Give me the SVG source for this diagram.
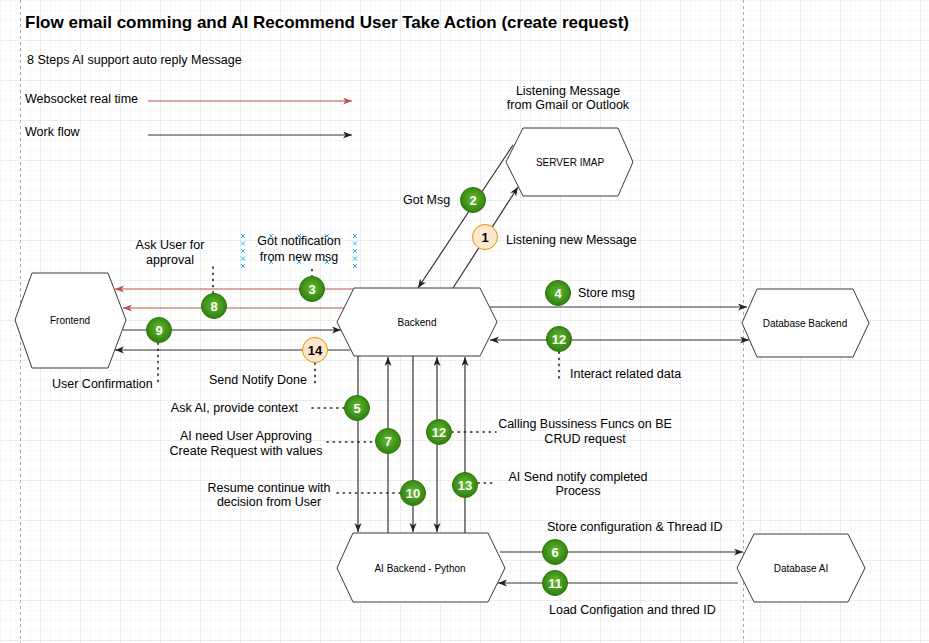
<svg xmlns="http://www.w3.org/2000/svg" width="929" height="643" viewBox="0 0 929 643">
<style>
text{font-family:"Liberation Sans",Arial,sans-serif;fill:#000}
.lbl{font-size:12.5px}
.node{font-size:10px}
.hex{fill:#fff;stroke:#36393d;stroke-width:1}
.ln{fill:none;stroke:#333;stroke-width:1.2}
.red{fill:none;stroke:#b85450;stroke-width:1.2}
.dot{fill:none;stroke:#222;stroke-width:1.6;stroke-dasharray:1.2 5;stroke-linecap:round}
.gc{fill:url(#gg);stroke:#2d7600;stroke-width:1}
.oc{fill:#ffe6cc;stroke:#d79b00;stroke-width:1}
.num{font-size:13px;font-weight:bold;fill:#fff;text-anchor:middle}
.numo{font-size:13px;font-weight:bold;fill:#000;text-anchor:middle}
.hx{stroke:#29b6f2;stroke-width:1}
</style>
<defs>
<pattern id="gmin" width="10" height="10" patternUnits="userSpaceOnUse"><path d="M10 0H0V10" fill="none" stroke="#f0f0f0" stroke-width="1"/></pattern>
<pattern id="gmaj" width="40" height="40" patternUnits="userSpaceOnUse"><rect width="40" height="40" fill="url(#gmin)"/><path d="M40 0H0V40" fill="none" stroke="#e2e2e2" stroke-width="1"/></pattern>
<radialGradient id="gg" cx="50%" cy="45%" r="55%"><stop offset="0" stop-color="#62ba2c"/><stop offset="1" stop-color="#2f7f12"/></radialGradient>
<marker id="aB" markerWidth="10" markerHeight="8" refX="9" refY="3.5" orient="auto-start-reverse" markerUnits="userSpaceOnUse"><path d="M0,0 L9,3.5 L0,7 L2.5,3.5 z" fill="#222"/></marker>
<marker id="aR" markerWidth="10" markerHeight="8" refX="9" refY="3.5" orient="auto-start-reverse" markerUnits="userSpaceOnUse"><path d="M0,0 L9,3.5 L0,7 L2.5,3.5 z" fill="#b85450"/></marker>
</defs>
<rect width="929" height="643" fill="#fff"/>
<rect x="0.5" y="0.5" width="929" height="643" fill="url(#gmaj)"/>
<line x1="20.5" y1="0" x2="20.5" y2="643" stroke="#aaa" stroke-dasharray="3 3"/>
<line x1="743.5" y1="0" x2="743.5" y2="643" stroke="#aaa" stroke-dasharray="3 3"/>

<g id="title">
<text x="25" y="28" font-size="17" font-weight="bold">Flow email comming and AI Recommend User Take Action (create request)</text>
<text x="27" y="64" font-size="12.5">8 Steps AI support auto reply Message</text>
</g>
<g id="legend">
<text x="25" y="103" class="lbl">Websocket real time</text>
<text x="25" y="136" class="lbl">Work flow</text>
<line x1="148" y1="101" x2="352" y2="101" class="red" marker-end="url(#aR)"/>
<line x1="148" y1="135" x2="352" y2="135" class="ln" marker-end="url(#aB)"/>
</g>

<g id="connectors">
<line x1="513" y1="145" x2="418" y2="288" class="ln" marker-end="url(#aB)"/>
<line x1="453" y1="288" x2="518" y2="187" class="ln" marker-end="url(#aB)"/>
<line x1="353" y1="289" x2="115" y2="289" class="red" marker-end="url(#aR)"/>
<line x1="344" y1="308" x2="123" y2="308" class="red" marker-end="url(#aR)"/>
<line x1="123" y1="330" x2="341" y2="330" class="ln" marker-end="url(#aB)"/>
<line x1="350" y1="350" x2="115" y2="350" class="ln" marker-end="url(#aB)"/>
<line x1="490" y1="307" x2="747" y2="307" class="ln" marker-end="url(#aB)"/>
<line x1="490" y1="340" x2="749" y2="340" class="ln" marker-start="url(#aB)" marker-end="url(#aB)"/>
<line x1="358" y1="356" x2="358" y2="532" class="ln" marker-end="url(#aB)"/>
<line x1="388" y1="533" x2="388" y2="357" class="ln" marker-end="url(#aB)"/>
<line x1="413" y1="356" x2="413" y2="532" class="ln" marker-end="url(#aB)"/>
<line x1="437" y1="357" x2="437" y2="532" class="ln" marker-start="url(#aB)" marker-end="url(#aB)"/>
<line x1="465" y1="533" x2="465" y2="357" class="ln" marker-end="url(#aB)"/>
<line x1="500" y1="552" x2="743" y2="552" class="ln" marker-end="url(#aB)"/>
<line x1="738" y1="583" x2="498" y2="583" class="ln" marker-end="url(#aB)"/>
<path class="dot" d="M213 293V263 M312 277V265 M158 343V386 M315 363V384 M559 352V378 M312 408H345 M327 442H375 M337 493H400 M452 432H496 M478 483H496"/>
</g>

<g id="server-imap">
<polygon class="hex" points="523,128 618,128 633,162 618,196 523,196 506,162"/>
<text x="570" y="165.5" class="node" text-anchor="middle">SERVER IMAP</text>
<text x="568" y="95" class="lbl" text-anchor="middle">Listening Message</text>
<text x="568" y="109" class="lbl" text-anchor="middle">from Gmail or Outlook</text>
</g>
<g id="frontend">
<polygon class="hex" points="32,273 108,273 126,320 108,368 32,368 15,320"/>
<text x="70" y="323.5" class="node" text-anchor="middle">Frontend</text>
</g>
<g id="backend">
<polygon class="hex" points="354,288 480,288 497,322 480,356 354,356 337,322"/>
<text x="417" y="325.5" class="node" text-anchor="middle">Backend</text>
</g>
<g id="database-backend">
<polygon class="hex" points="757,289 853,289 869,323 853,357 757,357 742,323"/>
<text x="805" y="326.5" class="node" text-anchor="middle">Database Backend</text>
</g>
<g id="ai-backend">
<polygon class="hex" points="353,533 488,533 505,568 488,602 353,602 337,568"/>
<text x="420" y="571.5" class="node" text-anchor="middle">AI Backend - Python</text>
</g>
<g id="database-ai">
<polygon class="hex" points="754,534 848,534 865,568 848,602 754,602 737,568"/>
<text x="801" y="571.5" class="node" text-anchor="middle">Database AI</text>
</g>

<g id="labels">
<text x="403" y="204" class="lbl">Got Msg</text>
<text x="506" y="244" class="lbl">Listening new Message</text>
<text x="170" y="249" class="lbl" text-anchor="middle">Ask User for</text>
<text x="170" y="264" class="lbl" text-anchor="middle">approval</text>
<text x="299" y="245" class="lbl" text-anchor="middle">Got notification</text>
<text x="299" y="261" class="lbl" text-anchor="middle">from new msg</text>
<text x="578" y="297" class="lbl">Store msg</text>
<text x="570" y="378" class="lbl">Interact related data</text>
<text x="52" y="388" class="lbl">User Confirmation</text>
<text x="209" y="384" class="lbl">Send Notify Done</text>
<text x="298" y="412" class="lbl" text-anchor="end">Ask AI, provide context</text>
<text x="246" y="440" class="lbl" text-anchor="middle">AI need User Approving</text>
<text x="246" y="455" class="lbl" text-anchor="middle">Create Request with values</text>
<text x="269" y="492" class="lbl" text-anchor="middle">Resume continue with</text>
<text x="269" y="506" class="lbl" text-anchor="middle">decision from User</text>
<text x="585" y="428" class="lbl" text-anchor="middle">Calling Bussiness Funcs on BE</text>
<text x="585" y="443" class="lbl" text-anchor="middle">CRUD request</text>
<text x="578" y="481" class="lbl" text-anchor="middle">AI Send notify completed</text>
<text x="578" y="495" class="lbl" text-anchor="middle">Process</text>
<text x="547" y="531" class="lbl">Store configuration &amp; Thread ID</text>
<text x="549" y="614" class="lbl">Load Configation and thred ID</text>
</g>

<g id="handles">
<path class="hx" d="M241 234l4 4m0-4l-4 4 M241 241.5l4 4m0-4l-4 4 M241 249l4 4m0-4l-4 4 M241 256.5l4 4m0-4l-4 4 M241 264l4 4m0-4l-4 4 M353 234l4 4m0-4l-4 4 M353 241.5l4 4m0-4l-4 4 M353 249l4 4m0-4l-4 4 M353 256.5l4 4m0-4l-4 4 M353 264l4 4m0-4l-4 4 M269 234l4 4m0-4l-4 4 M297 234l4 4m0-4l-4 4 M325 234l4 4m0-4l-4 4 M269 260l4 4m0-4l-4 4 M297 260l4 4m0-4l-4 4 M325 260l4 4m0-4l-4 4"/>
</g>

<g id="steps">
<circle cx="485" cy="237" r="12.5" class="oc"/><text x="485" y="241.5" class="numo">1</text>
<circle cx="473" cy="200" r="12.5" class="gc"/><text x="473" y="204.5" class="num">2</text>
<circle cx="312" cy="289" r="12.5" class="gc"/><text x="312" y="293.5" class="num">3</text>
<circle cx="558" cy="293" r="12.5" class="gc"/><text x="558" y="297.5" class="num">4</text>
<circle cx="357" cy="408" r="12.5" class="gc"/><text x="357" y="412.5" class="num">5</text>
<circle cx="555" cy="552" r="12.5" class="gc"/><text x="555" y="556.5" class="num">6</text>
<circle cx="388" cy="441" r="12.5" class="gc"/><text x="388" y="445.5" class="num">7</text>
<circle cx="214" cy="306" r="12.5" class="gc"/><text x="214" y="310.5" class="num">8</text>
<circle cx="159" cy="330" r="12.5" class="gc"/><text x="159" y="334.5" class="num">9</text>
<circle cx="413" cy="493" r="12.5" class="gc"/><text x="413" y="497.5" class="num">10</text>
<circle cx="555" cy="583" r="12.5" class="gc"/><text x="555" y="587.5" class="num">11</text>
<circle cx="559" cy="339" r="12.5" class="gc"/><text x="559" y="343.5" class="num">12</text>
<circle cx="439" cy="432" r="12.5" class="gc"/><text x="439" y="436.5" class="num">12</text>
<circle cx="465" cy="485" r="12.5" class="gc"/><text x="465" y="489.5" class="num">13</text>
<circle cx="315" cy="350" r="12.5" class="oc"/><text x="315" y="354.5" class="numo">14</text>
</g>
</svg>
